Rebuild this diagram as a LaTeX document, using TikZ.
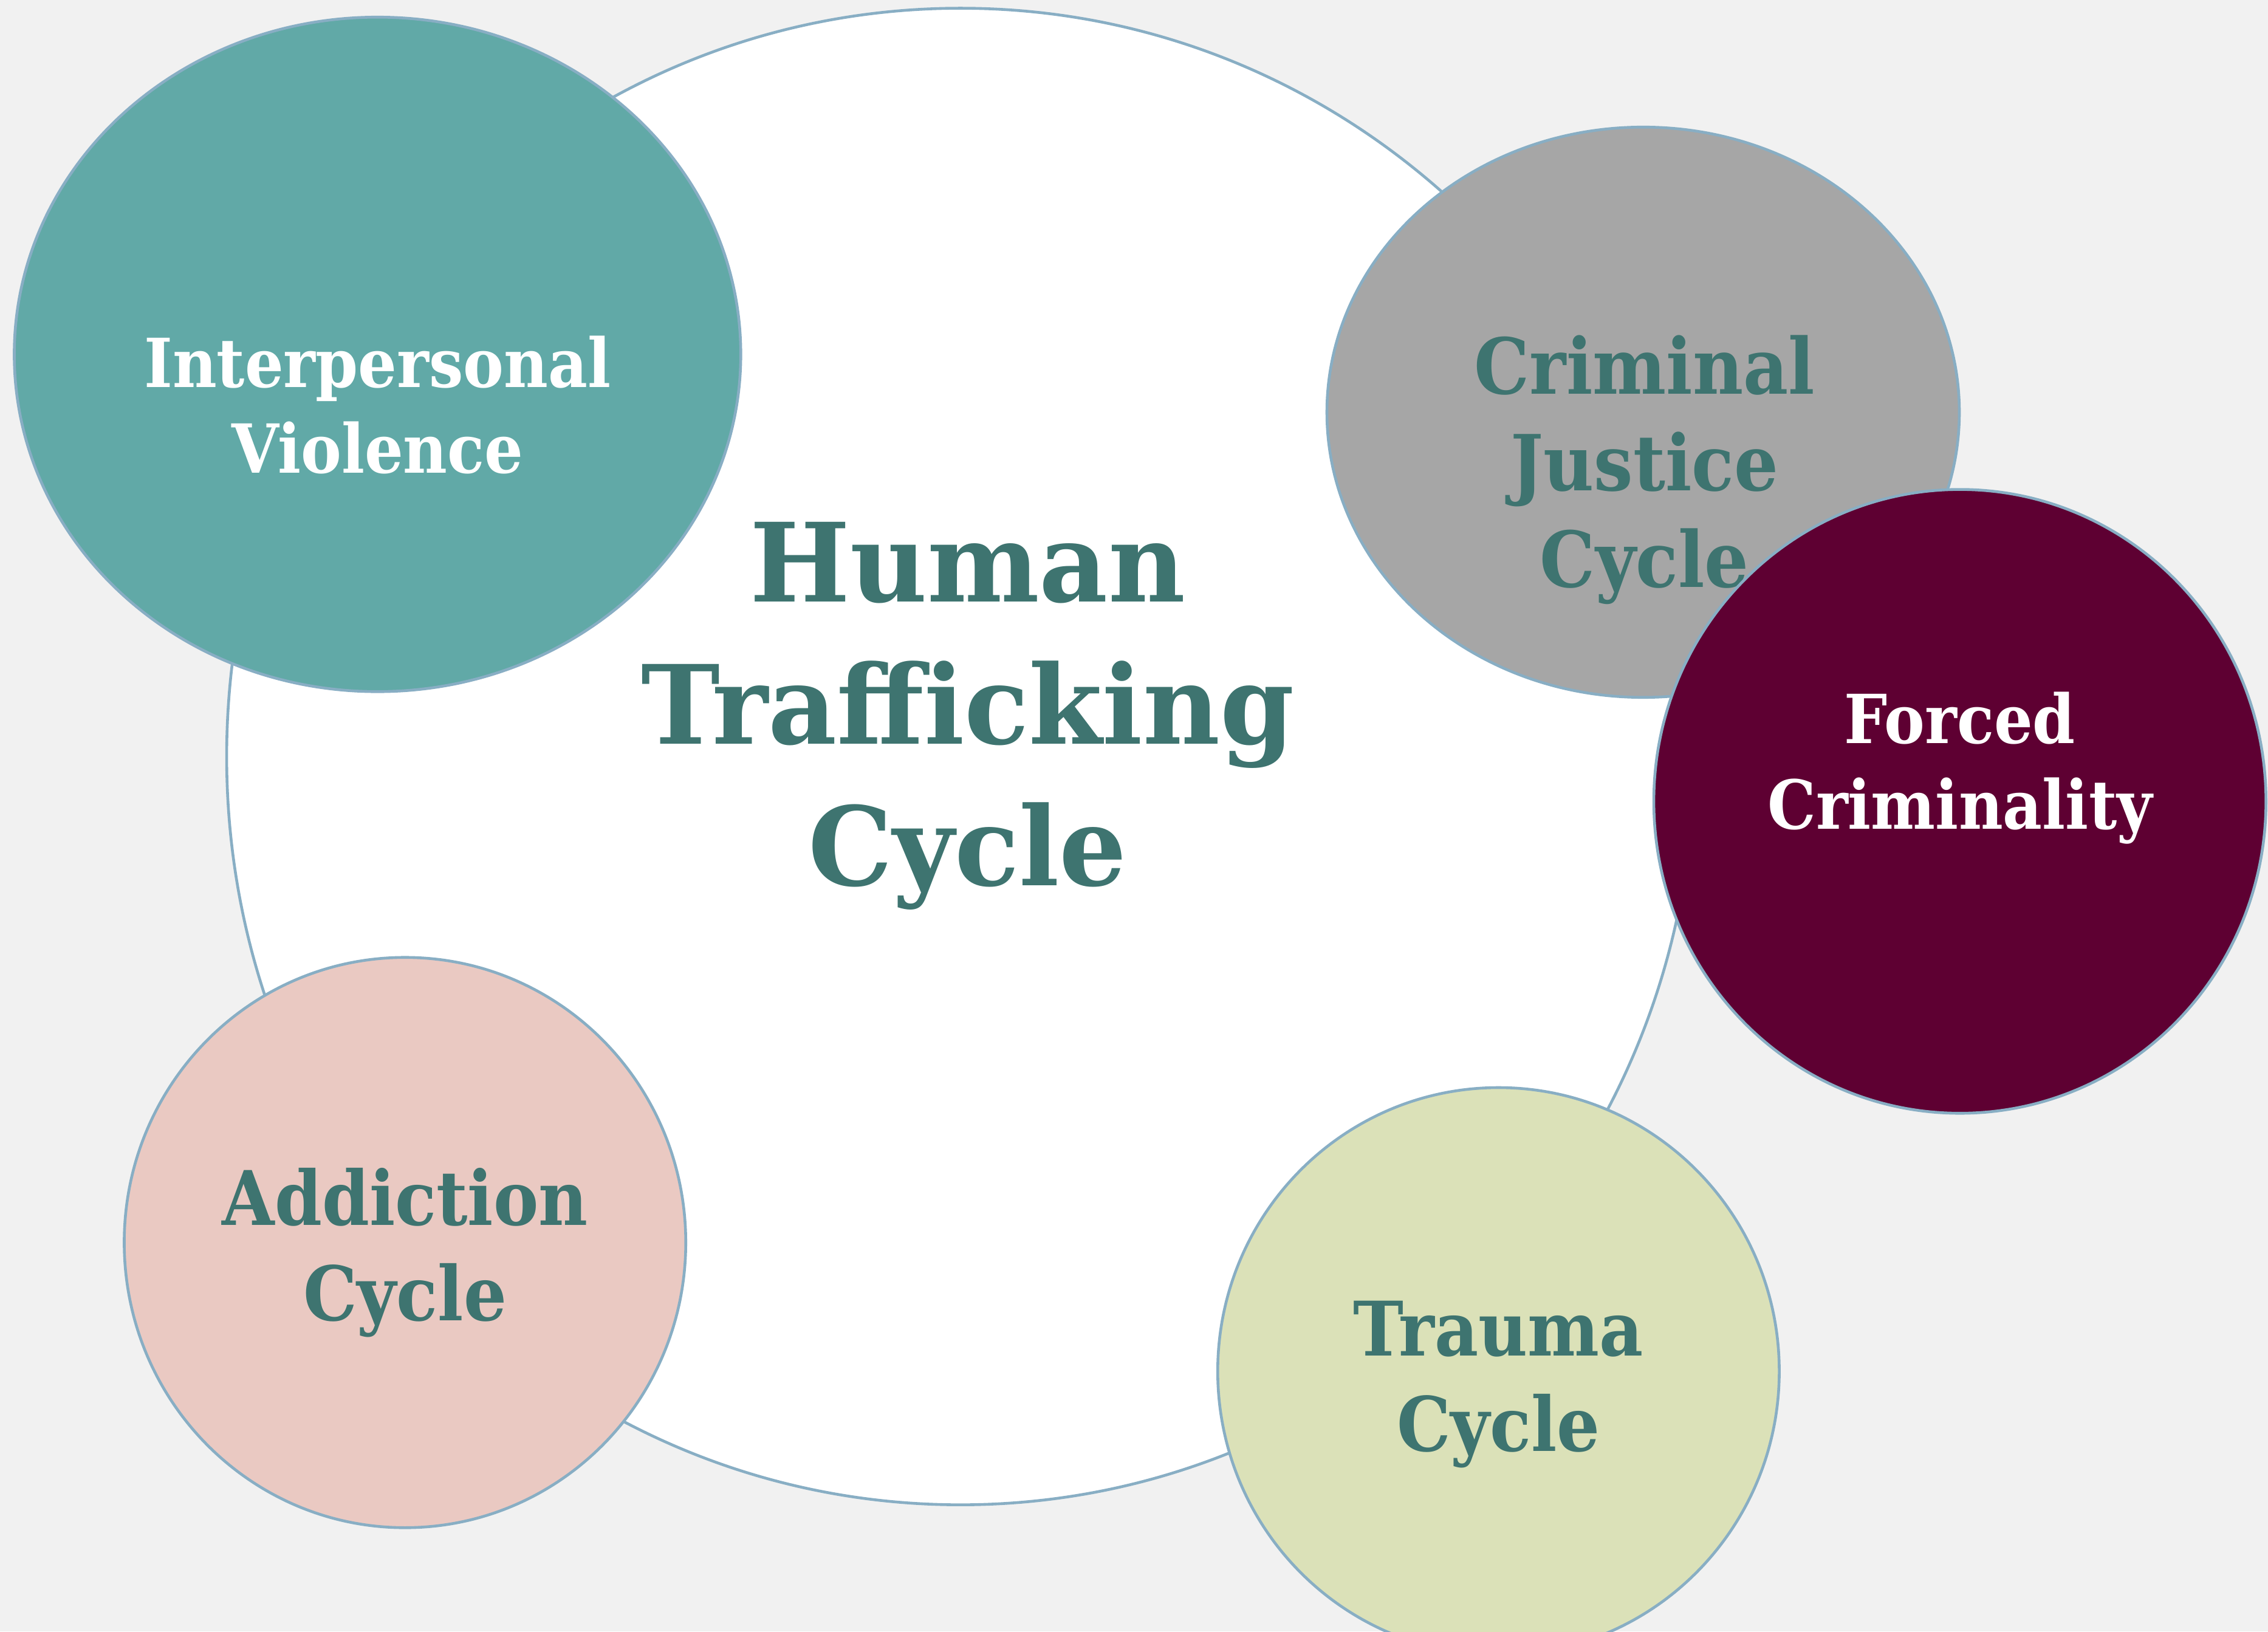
\documentclass[tikz,border=0pt]{standalone}
\usepackage{fontspec}
\setmainfont{DejaVu Serif}
\newfontfamily\htfont[FakeStretch=0.9]{DejaVu Serif}
\newfontfamily\hthead[FakeStretch=0.97]{DejaVu Serif}
\usepackage{tikz}
\usetikzlibrary{shapes.geometric,positioning,calc}
\definecolor{HTPaper}{HTML}{F1F1F1}
\definecolor{HTEdge}{HTML}{88AEC4}
\definecolor{HTInk}{HTML}{3E7470}
\definecolor{HTTeal}{HTML}{61A9A7}
\definecolor{HTGrey}{HTML}{A6A6A6}
\definecolor{HTWine}{HTML}{5E0032}
\definecolor{HTRose}{HTML}{EAC9C2}
\definecolor{HTSage}{HTML}{DBE1B8}

\begin{document}
\begin{tikzpicture}[x=0.01cm,y=-0.01cm,
  bubble/.style={ellipse,draw=HTEdge,line width=0.55pt,inner sep=0pt,outer sep=0pt},
  tag/.style={align=center,text=HTInk,inner sep=0pt}]
  \useasboundingbox (0,0) rectangle (1568,1128);
  \fill[HTPaper] (0,0) rectangle (1568,1128);
  \clip (0,0) rectangle (1568,1128);
  % big circle in the middle
  \node[bubble,fill=white,minimum width=10.14cm,minimum height=10.34cm] (hub) at (664,523) {};
  \node[tag,font=\hthead\bfseries\fontsize{21.5}{27.9}\selectfont] (hubtxt) at (669,495) {Human\\Trafficking\\Cycle};
  % the smaller cycles around it
  \node[bubble,fill=HTTeal,minimum width=5.02cm,minimum height=4.66cm] (iv) at (261,245) {};
  \node[tag,text=white,font=\htfont\bfseries\fontsize{13.3}{16.8}\selectfont] (ivtxt) at (261,280) {Interpersonal\\Violence};
  \node[bubble,fill=HTGrey,minimum width=4.37cm,minimum height=3.94cm] (cj) at (1136,285) {};
  \node[tag,font=\htfont\bfseries\fontsize{15.2}{19}\selectfont] (cjtxt) at (1137,325) {Criminal\\Justice\\Cycle};
  \node[bubble,fill=HTWine,minimum width=4.23cm,minimum height=4.31cm] (fc) at (1355,554) {};
  \node[tag,text=white,font=\htfont\bfseries\fontsize{13.3}{16.8}\selectfont] (fctxt) at (1355,531) {Forced\\Criminality};
  \node[bubble,fill=HTRose,minimum width=3.88cm,minimum height=3.94cm] (ad) at (280,859) {};
  \node[tag,font=\htfont\bfseries\fontsize{14.8}{18.7}\selectfont] (adtxt) at (280,866) {Addiction\\Cycle};
  \node[bubble,fill=HTSage,minimum width=3.88cm,minimum height=3.92cm] (tr) at (1036,948) {};
  \node[tag,font=\htfont\bfseries\fontsize{14.8}{18.7}\selectfont] (trtxt) at (1036,957) {Trauma\\Cycle};
\end{tikzpicture}
\end{document}
